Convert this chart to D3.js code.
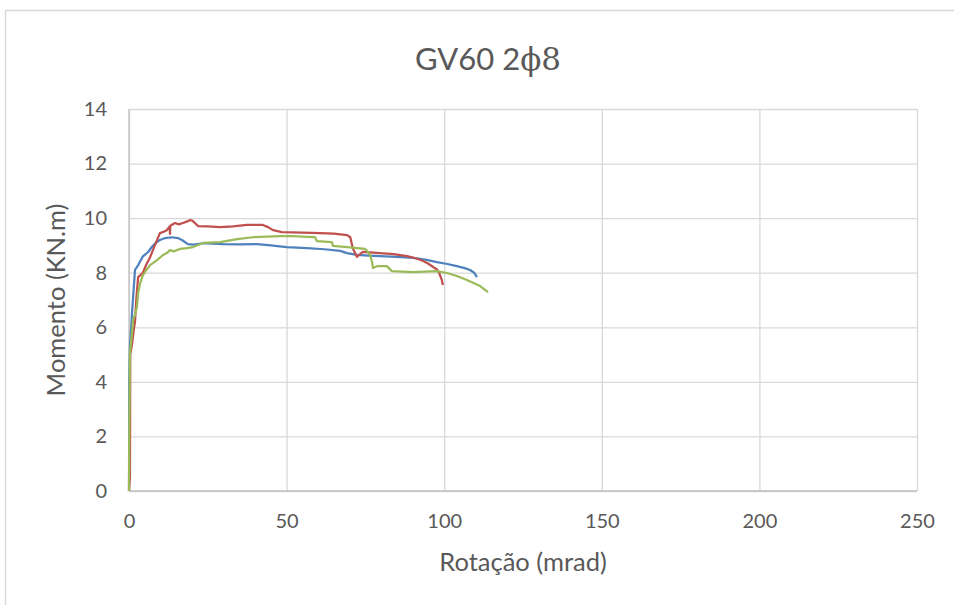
<!DOCTYPE html>
<html>
<head>
<meta charset="utf-8">
<script src="https://cdn.jsdelivr.net/npm/d3@7"></script>
<style>
  body { margin: 0; background: #fff; }
  text { font-family: Lato, "Open Sans", sans-serif; fill: #595959; }
</style>
</head>
<body>
<div id="chart"></div>
<script>
// rotation (mrad) / moment (kN.m)
const blueX = [0, 0.1, 0.3, 0.6, 1.0, 1.9, 3.0, 4.4, 6.0, 7.3, 8.5, 9.8, 11.5, 13.6, 15.5, 16.8, 18.7, 20.5, 23.5, 26.5, 29.8, 35, 40.6, 45, 50, 56.5, 62, 67, 69.2, 72.3, 76, 79.6, 85, 90.1, 94, 97.7, 101, 104, 106.5, 108.2, 109.5, 110.4]
const blueY = [0, 4.0, 5.3, 5.8, 6.6, 8.1, 8.3, 8.6, 8.75, 8.95, 9.1, 9.2, 9.27, 9.3, 9.27, 9.2, 9.05, 9.03, 9.08, 9.07, 9.05, 9.04, 9.05, 9.0, 8.94, 8.9, 8.86, 8.8, 8.72, 8.65, 8.63, 8.61, 8.58, 8.54, 8.48, 8.39, 8.32, 8.24, 8.17, 8.1, 8.0, 7.84]

const redX = [0, 0.3, 0.4, 1.0, 1.5, 1.9, 2.3, 2.9, 3.5, 4.4, 5.5, 6.7, 8.2, 9.8, 11, 12, 12.9, 13.0, 13.1, 14.6, 15.8, 17.1, 18.5, 19.4, 20.2, 21.9, 25, 28.9, 33, 37.4, 42.5, 44.1, 45.7, 48.5, 55, 60.6, 65, 69.2, 70.2, 71, 72.3, 73, 74.2, 79.6, 84, 88.2, 91, 93.3, 95, 96.5, 97.7, 98.4, 99.2, 99.6]
const redY = [0, 0.5, 5.0, 5.4, 5.9, 6.2, 7.0, 7.84, 7.9, 8.0, 8.3, 8.57, 9.0, 9.45, 9.5, 9.56, 9.7, 9.42, 9.72, 9.82, 9.77, 9.82, 9.88, 9.93, 9.9, 9.71, 9.7, 9.67, 9.7, 9.75, 9.75, 9.67, 9.56, 9.49, 9.47, 9.45, 9.43, 9.38, 9.3, 8.9, 8.58, 8.65, 8.76, 8.72, 8.68, 8.61, 8.53, 8.43, 8.33, 8.21, 8.12, 7.99, 7.75, 7.55]

const greenX = [0, 0.1, 0.2, 0.3, 0.8, 1.3, 2.0, 2.5, 2.9, 3.5, 4.4, 5.5, 6.7, 8.9, 10.8, 12, 13, 14.2, 15, 16.2, 18.4, 20.3, 23.5, 28.9, 34.3, 39.3, 47.9, 52, 55, 59, 59.6, 64.4, 64.7, 69.2, 74.9, 75.5, 76.5, 77.1, 77.4, 78.7, 81.8, 83.4, 90.1, 97.7, 100.9, 104, 107.2, 111.4, 113.9]
const greenY = [0, 2.3, 3.5, 5.06, 5.6, 6.27, 6.5, 6.74, 7.26, 7.6, 7.9, 8.1, 8.28, 8.46, 8.65, 8.72, 8.83, 8.78, 8.82, 8.87, 8.9, 8.94, 9.09, 9.12, 9.23, 9.3, 9.34, 9.34, 9.32, 9.3, 9.16, 9.12, 8.98, 8.94, 8.87, 8.8, 8.65, 8.4, 8.17, 8.24, 8.24, 8.06, 8.02, 8.06, 7.99, 7.88, 7.73, 7.51, 7.29]

const xTicks = [0, 50, 100, 150, 200, 250]
const yTicks = [0, 2, 4, 6, 8, 10, 12, 14]

const width = 954, height = 605
const margin = { top: 109, right: 37, bottom: 114, left: 129 }

const series = [
    { xs: blueX, ys: blueY, color: "#4F81BD" },
    { xs: redX, ys: redY, color: "#C0504D" },
    { xs: greenX, ys: greenY, color: "#9BBB59" }
]

const x = d3.scaleLinear()
    .domain([0, 250])
    .range([margin.left, width - margin.right])

const y = d3.scaleLinear()
    .domain([0, 14])
    .range([height - margin.bottom, margin.top])

const svg = d3.select("#chart")
    .append("svg")
    .attr("width", width)
    .attr("height", height)

// outer chart frame
svg.append("path")
    .attr("d", `M5.5,${height + 5}V10.5H${width + 5}`)
    .attr("fill", "none")
    .attr("stroke", "#d9d9d9")
    .attr("stroke-width", 1.5)

// grid
svg.append("g")
    .attr("transform", `translate(0,${height - margin.bottom})`)
    .call(d3.axisBottom(x).tickValues(xTicks).tickSize(-(height - margin.top - margin.bottom)).tickFormat(""))
    .call(g => g.select(".domain").remove())
    .call(g => g.selectAll("line").attr("stroke", "#d9d9d9").attr("stroke-width", 1.3))

svg.append("g")
    .attr("transform", `translate(${margin.left},0)`)
    .call(d3.axisLeft(y).tickValues(yTicks).tickSize(-(width - margin.left - margin.right)).tickFormat(""))
    .call(g => g.select(".domain").remove())
    .call(g => g.selectAll("line").attr("stroke", "#d9d9d9").attr("stroke-width", 1.3))

// axis lines
svg.append("line")
    .attr("x1", margin.left).attr("x2", width - margin.right)
    .attr("y1", y(0)).attr("y2", y(0))
    .attr("stroke", "#bfbfbf").attr("stroke-width", 1.5)

svg.append("line")
    .attr("x1", x(0)).attr("x2", x(0))
    .attr("y1", y(0)).attr("y2", y(14))
    .attr("stroke", "#bfbfbf").attr("stroke-width", 1.3)

// tick labels
svg.append("g")
    .attr("transform", `translate(0,${height - margin.bottom})`)
    .call(d3.axisBottom(x).tickValues(xTicks).tickSize(0).tickPadding(23))
    .call(g => g.select(".domain").remove())
    .call(g => g.selectAll("text").attr("font-size", 20).attr("font-family", null).attr("fill", null))

svg.append("g")
    .attr("transform", `translate(${margin.left},0)`)
    .call(d3.axisLeft(y).tickValues(yTicks).tickSize(0).tickPadding(22))
    .call(g => g.select(".domain").remove())
    .call(g => g.selectAll("text").attr("font-size", 20).attr("font-family", null).attr("fill", null))

// curves
const line = d3.line()
    .x(d => x(d[0]))
    .y(d => y(d[1]))

svg.append("g")
    .selectAll("path")
    .data(series)
    .join("path")
    .attr("d", s => line(d3.zip(s.xs, s.ys)))
    .attr("fill", "none")
    .attr("stroke", s => s.color)
    .attr("stroke-width", 2.25)
    .attr("stroke-linejoin", "round")

// titles
const title = svg.append("text")
    .attr("x", 488)
    .attr("y", 70)
    .attr("text-anchor", "middle")
    .attr("font-size", 31)
title.append("tspan").text("GV60 2")
title.append("tspan").attr("font-family", "DejaVu Serif").text("ϕ8")

svg.append("text")
    .attr("x", (margin.left + width - margin.right) / 2)
    .attr("y", 571)
    .attr("text-anchor", "middle")
    .attr("font-size", 25.5)
    .text("Rotação (mrad)")

svg.append("text")
    .attr("transform", `translate(65,${(margin.top + height - margin.bottom) / 2}) rotate(-90)`)
    .attr("text-anchor", "middle")
    .attr("font-size", 25.5)
    .text("Momento (KN.m)")
</script>
</body>
</html>
